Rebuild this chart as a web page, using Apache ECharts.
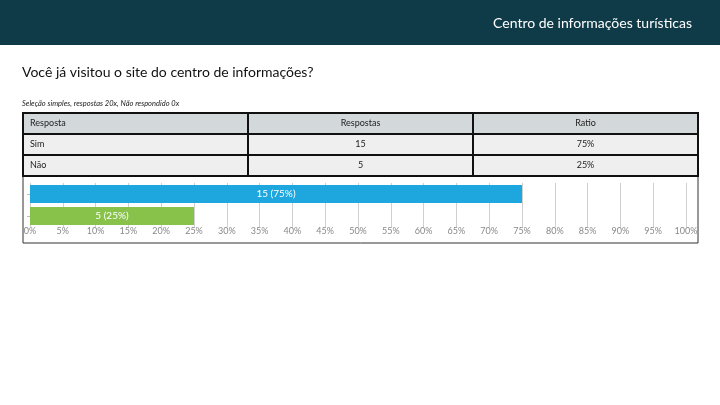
<!DOCTYPE html>
<html>
<head>
<meta charset="utf-8">
<script src="https://cdn.jsdelivr.net/npm/echarts@6/dist/echarts.min.js"></script>
<style>
  html, body { margin: 0; padding: 0; background: #fff; }
  #chart { width: 720px; height: 405px; }
</style>
</head>
<body>
<div id="chart"></div>
<script>
const pageTitle = 'Centro de informações turísticas';
const question = 'Você já visitou o site do centro de informações?';
const note = 'Seleção simples, respostas 20x, Não respondido 0x';
const tableHeaders = ['Resposta', 'Respostas', 'Ratio'];
const categories = ['Sim', 'Não'];
const counts = [15, 5];
const ratios = [75, 25];
const barColors = ['#1ea6df', '#88c24a'];

const FONT = 'Lato, "Open Sans", sans-serif';

function buildTable() {
  const cols = [23, 248, 473, 698];
  const top = 113, rowH = 21;
  const rows = [tableHeaders].concat(categories.map((c, i) => [c, String(counts[i]), ratios[i] + '%']));
  const els = [];
  rows.forEach((row, r) => {
    row.forEach((txt, c) => {
      const x = cols[c], w = cols[c + 1] - cols[c], y = top + r * rowH;
      els.push({
        type: 'rect',
        shape: { x: x, y: y, width: w, height: rowH },
        style: { fill: r === 0 ? '#d3d8db' : '#efefef', stroke: '#111', lineWidth: 2 }
      });
      els.push({
        type: 'text',
        x: c === 0 ? x + 7 : x + w / 2,
        y: y + rowH / 2,
        style: {
          text: txt, fill: '#222', fontSize: 9, fontFamily: FONT,
          align: c === 0 ? 'left' : 'center', verticalAlign: 'middle'
        }
      });
    });
  });
  return els;
}

const chart = echarts.init(document.getElementById('chart'));
chart.setOption({
  animation: false,
  textStyle: { fontFamily: FONT },
  graphic: [
    { type: 'rect', shape: { x: 0, y: 0, width: 720, height: 45 }, style: { fill: '#0f3a47' } },
    { type: 'text', x: 692, y: 23, style: { text: pageTitle, fill: '#fff', fontSize: 14, fontFamily: FONT, align: 'right', verticalAlign: 'middle' } },
    { type: 'text', x: 22, y: 72, style: { text: question, fill: '#111', fontSize: 14, fontFamily: FONT, verticalAlign: 'middle' } },
    { type: 'text', x: 22, y: 104, style: { text: note, fill: '#222', fontSize: 7.5, fontStyle: 'italic', fontFamily: FONT, verticalAlign: 'middle' } },
    { type: 'rect', shape: { x: 23, y: 176, width: 675, height: 67 }, style: { fill: 'none', stroke: '#333', lineWidth: 1 } }
  ].concat(buildTable()),
  grid: { left: 30, right: 34, top: 183, bottom: 178, containLabel: false },
  xAxis: {
    type: 'value', min: 0, max: 100, interval: 5,
    axisLine: { show: false },
    axisTick: { show: false },
    axisLabel: { formatter: '{value}%', color: '#888', fontSize: 9, margin: 0 },
    splitLine: { show: true, lineStyle: { color: '#d0d0d0', width: 1 } }
  },
  yAxis: {
    type: 'category', data: categories, inverse: true,
    axisLine: { show: false },
    axisTick: { show: true, alignWithLabel: true, length: 3, lineStyle: { color: '#bbb' } },
    axisLabel: { show: false }
  },
  series: [{
    type: 'bar',
    barWidth: 18,
    data: ratios.map((v, i) => ({ value: v, itemStyle: { color: barColors[i] } })),
    label: {
      show: true, position: 'inside', color: '#fff', fontSize: 10,
      formatter: p => counts[p.dataIndex] + ' (' + p.value + '%)'
    }
  }]
});
</script>
</body>
</html>
